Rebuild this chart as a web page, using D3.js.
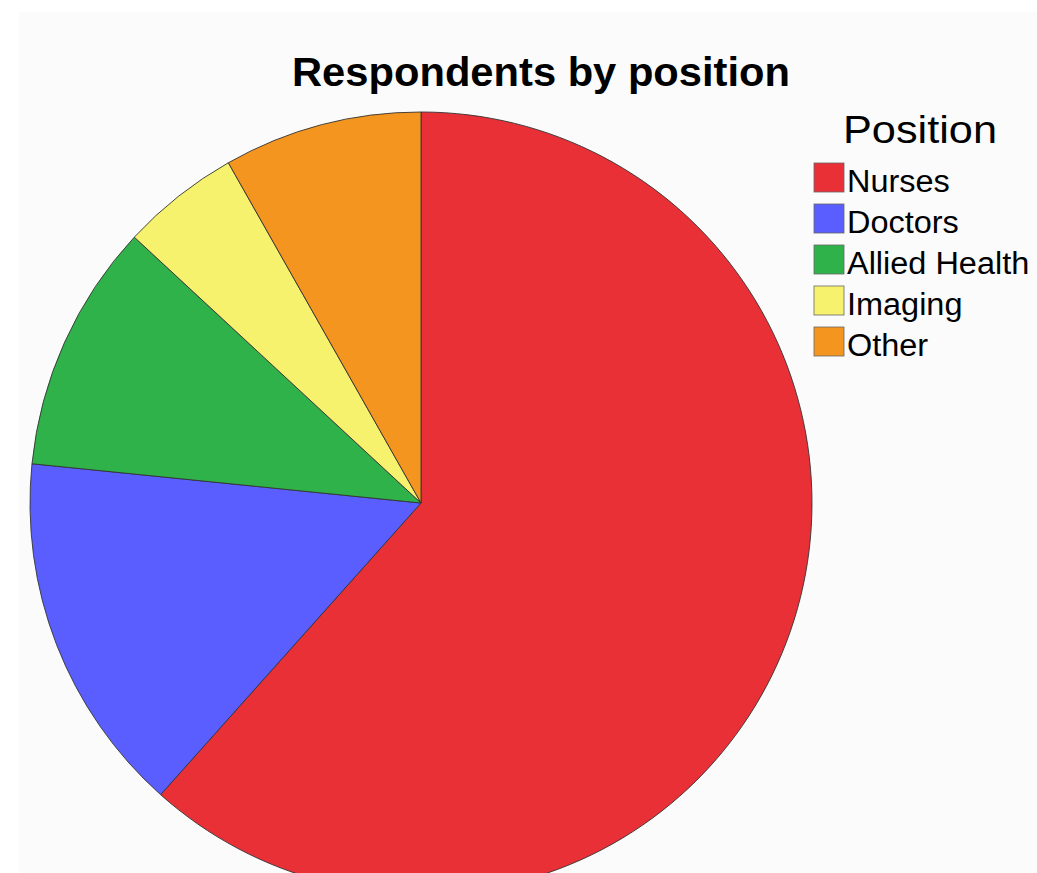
<!DOCTYPE html>
<html><head><meta charset="utf-8">
<script src="https://cdn.jsdelivr.net/npm/d3@7"></script>
<style>html,body{margin:0;padding:0;background:#fff;overflow:hidden}</style>
</head><body>
<svg id="chart" width="1037" height="873"></svg>
<script>
const categories = ["Nurses", "Doctors", "Allied Health", "Imaging", "Other"];
const values = [61.6, 15.0, 10.3, 4.9, 8.2];
const colors = ["#e93037", "#5a5efe", "#2fb24a", "#f7f26e", "#f3951e"];
const titleText = "Respondents by position";
const legendTitle = "Position";

const svg = d3.select("#chart");
svg.append("rect").attr("x", 19).attr("y", 12).attr("width", 1037 - 19).attr("height", 873 - 12).attr("fill", "#fbfbfb");

const cx = 421, cy = 503, r = 391;
const pie = d3.pie().sort(null).value(d => d)(values);
const arc = d3.arc().innerRadius(0).outerRadius(r);
const color = d3.scaleOrdinal().domain(categories).range(colors);

svg.append("g").attr("transform", `translate(${cx},${cy})`)
  .selectAll("path").data(pie).join("path")
  .attr("d", arc)
  .attr("fill", (d, i) => color(categories[i]))
  .attr("stroke", "#333")
  .attr("stroke-width", 0.9)
  .attr("stroke-linejoin", "round");

const font = "Liberation Sans, Arial, sans-serif";
function stretch(sel, factor) {
  sel.each(function() {
    const w = this.getComputedTextLength();
    d3.select(this).attr("textLength", w * factor).attr("lengthAdjust", "spacingAndGlyphs");
  });
}

const t = svg.append("text").attr("x", 541).attr("y", 86).attr("text-anchor", "middle")
  .attr("font-family", font).attr("font-weight", "bold")
  .attr("font-size", 40).attr("fill", "#000").text(titleText);
stretch(t, 498 / t.node().getComputedTextLength());

const lt = svg.append("text").attr("x", 920).attr("y", 143).attr("text-anchor", "middle")
  .attr("font-family", font)
  .attr("font-size", 39).attr("fill", "#000").text(legendTitle);
stretch(lt, 154 / lt.node().getComputedTextLength());

const lg = svg.append("g").selectAll("g").data(categories).join("g")
  .attr("transform", (d, i) => `translate(814,${163 + i * 41})`);
lg.append("rect").attr("width", 30).attr("height", 29)
  .attr("fill", d => color(d)).attr("stroke", "#666").attr("stroke-width", 0.8);
const items = lg.append("text").attr("x", 33).attr("y", 29)
  .attr("font-family", font)
  .attr("font-size", 31).attr("fill", "#000").text(d => d);
stretch(items, 1.047);
</script>
</body></html>
